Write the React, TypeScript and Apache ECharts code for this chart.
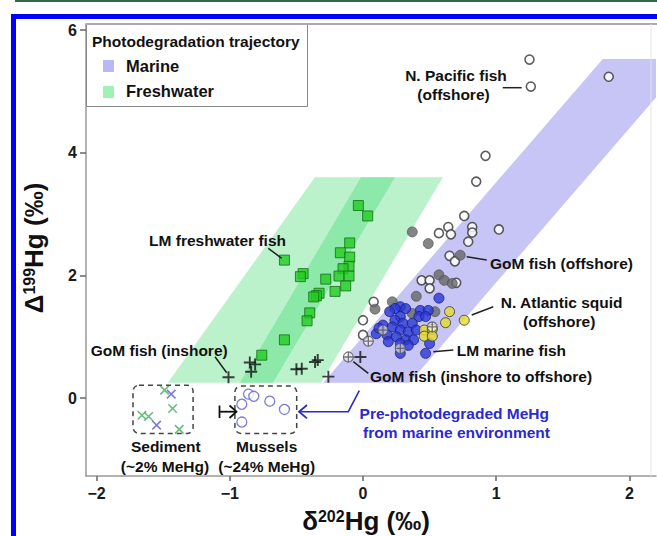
import React, { useEffect, useRef } from "react";
import * as echarts from "echarts";

// ---------- tick labels ----------
const X_TICKS = [-2, -1, 0, 1, 2];
const Y_TICKS = [0, 2, 4, 6];

// ---------- photodegradation trajectory bands (data units) ----------
const MARINE_BAND = [[-0.30, 0.25], [0.35, 0.25], [2.45, 5.53], [1.80, 5.53]];
const FRESH_BAND_A = [[-1.466, 0.25], [-0.677, 0.25], [0.24, 3.6], [-0.361, 3.6]];
const FRESH_BAND_B = [[-0.925, 0.25], [-0.316, 0.25], [0.60, 3.6], [-0.015, 3.6]];

// ---------- series values [δ202Hg, Δ199Hg] ----------
const LM_FRESHWATER_FISH = [
  [-0.035, 3.14], [0.035, 2.97], [-0.10, 2.53], [-0.59, 2.25], [-0.17, 2.37], [-0.10, 2.30],
  [-0.105, 2.15], [-0.15, 2.11], [-0.45, 2.03], [-0.47, 1.98], [-0.28, 1.94], [-0.18, 1.99],
  [-0.105, 1.99], [-0.13, 1.83], [-0.21, 1.74], [-0.33, 1.71], [-0.35, 1.67], [-0.37, 1.65],
  [-0.40, 1.39], [-0.42, 1.26], [-0.59, 0.95], [-0.76, 0.70],
];
const GOM_INSHORE = [
  [-1.01, 0.34], [-0.85, 0.58], [-0.81, 0.55], [-0.84, 0.43], [-0.50, 0.47], [-0.46, 0.48],
  [-0.36, 0.59], [-0.34, 0.62], [-0.26, 0.35], [-0.02, 0.67],
];
const GOM_INSHORE_TO_OFFSHORE = [
  [-0.11, 0.67], [0.15, 1.11], [0.04, 0.93], [0.52, 1.16], [0.28, 0.81],
];
const N_PACIFIC_FISH = [
  [1.25, 5.52], [1.26, 5.08], [1.845, 5.24], [0.92, 3.95], [0.85, 3.53], [0.76, 2.97],
  [0.64, 2.79], [0.82, 2.79], [0.82, 2.70], [1.02, 2.75], [0.57, 2.69], [0.66, 2.67],
  [0.79, 2.55], [0.65, 2.32], [0.69, 2.23], [0.44, 1.92], [0.50, 1.92], [0.50, 1.79],
  [0.70, 1.88], [0.08, 1.57], [0.00, 1.27], [0.00, 1.03],
];
const GOM_OFFSHORE_FISH = [
  [0.37, 2.71], [0.49, 2.52], [0.73, 2.33], [0.57, 2.01], [0.61, 1.92], [0.40, 1.66],
  [0.09, 1.45], [0.22, 1.57], [0.37, 1.38], [0.54, 1.41], [0.67, 1.87],
];
const LM_MARINE_FISH = [
  [0.57, 1.63], [0.28, 1.49], [0.32, 1.46], [0.24, 1.46], [0.20, 1.41], [0.43, 1.43],
  [0.49, 1.43], [0.42, 1.33], [0.47, 1.33], [0.28, 1.33], [0.24, 1.27], [0.30, 1.22],
  [0.37, 1.22], [0.15, 1.19], [0.22, 1.16], [0.28, 1.11], [0.34, 1.08], [0.40, 1.11],
  [0.10, 1.05], [0.18, 1.03], [0.25, 1.00], [0.32, 0.95], [0.38, 0.95], [0.19, 0.92],
  [0.28, 0.89], [0.34, 0.86], [0.28, 0.73], [0.50, 0.89], [0.47, 0.73], [0.12, 1.14],
];
const N_ATLANTIC_SQUID = [
  [0.65, 1.41], [0.76, 1.27], [0.62, 1.23], [0.46, 1.11], [0.52, 1.12], [0.46, 1.01], [0.52, 1.01],
];
const SEDIMENT_LM = [[-1.49, 0.13], [-1.43, -0.17], [-1.66, -0.28], [-1.61, -0.30], [-1.38, -0.51]];
const SEDIMENT_OTHER = [[-1.44, 0.065], [-1.55, -0.44]];
const MUSSELS = [[-0.86, 0.065], [-0.82, 0.03], [-0.91, -0.10], [-0.70, -0.05], [-0.59, -0.185], [-0.91, -0.39]];

// dashed boxes [xmin, ymin, xmax, ymax]
const SEDIMENT_BOX = [-1.727, -0.576, -1.276, 0.21];
const MUSSEL_BOX = [-0.962, -0.576, -0.498, 0.196];

const FONT = '"Liberation Sans", Arial, Helvetica, sans-serif';
const PLUS = "path://M4.2,0H5.8V10H4.2Z M0,4.2H10V5.8H0Z";
const THIN_PLUS = "path://M4.35,0H5.65V10H4.35Z M0,4.35H10V5.65H0Z";

function txt(text: string, x: number, y: number, o: any = {}) {
  return {
    type: "text",
    x,
    y,
    z: 100,
    style: {
      text,
      fill: o.fill || "#111",
      fontSize: o.size || 15.5,
      fontWeight: "bold",
      fontFamily: FONT,
      textAlign: o.align || "center",
      align: o.align || "center",
      textVerticalAlign: "middle",
      verticalAlign: "middle",
    },
  };
}
function ln(x1: number, y1: number, x2: number, y2: number, stroke = "#222", w = 1.5) {
  return { type: "line", z: 100, shape: { x1, y1, x2, y2 }, style: { stroke, lineWidth: w } };
}
function pl(points: number[][], stroke: string, w = 1.6) {
  return { type: "polyline", z: 100, shape: { points }, style: { stroke, lineWidth: w, fill: "none" } };
}

export default function App() {
  const ref = useRef<HTMLDivElement>(null);
  useEffect(() => {
    if (!ref.current) return;
    const chart = echarts.init(ref.current, null, { renderer: "svg" });
    const fmt = (v: number) => (v < 0 ? "\u2212" + Math.abs(v) : String(v));
    const bandSeries = (name: string, polys: number[][][], fill: string, z: number) => ({
      type: "custom",
      name,
      data: [[0, 0]],
      z,
      silent: true,
      clip: true,
      renderItem: (_p: any, api: any) => ({
        type: "group",
        children: polys.map((poly) => ({
          type: "polygon",
          shape: { points: poly.map((pt) => api.coord(pt)) },
          style: { fill },
        })),
      }),
    });
    const scatter = (name: string, data: number[][], symbol: string, size: number, itemStyle: any, z = 5, extra: any = {}) => ({
      type: "scatter",
      name,
      data,
      symbol,
      symbolSize: size,
      itemStyle,
      z,
      silent: true,
      ...extra,
    });
    const titleRich = {
      m: { fontSize: 26, fontWeight: "bold", fontFamily: FONT, fill: "#111", lineHeight: 25, verticalAlign: "bottom" },
      s: { fontSize: 16, fontWeight: "bold", fontFamily: FONT, fill: "#111", lineHeight: 25, verticalAlign: "top" },
    };

    chart.setOption({
      animation: false,
      backgroundColor: "#fff",
      grid: { left: 86, top: 24, width: 570, height: 452, show: false },
      xAxis: {
        type: "value",
        min: -2.08,
        max: 2.2,
        axisLine: { onZero: false, lineStyle: { color: "#999", width: 1.5 } },
        axisTick: { show: true, length: 5, customValues: X_TICKS, lineStyle: { color: "#666", width: 1.5 } },
        axisLabel: {
          customValues: X_TICKS,
          formatter: fmt,
          color: "#1a1a1a",
          fontWeight: "bold",
          fontSize: 16,
          fontFamily: FONT,
          margin: 9,
        },
        splitLine: { show: false },
      },
      yAxis: {
        type: "value",
        min: -1.27,
        max: 6.1,
        axisLine: { show: true, onZero: false, lineStyle: { color: "#999", width: 1.5 } },
        axisTick: { show: true, length: 6, customValues: Y_TICKS, lineStyle: { color: "#666", width: 1.5 } },
        axisLabel: {
          customValues: Y_TICKS,
          formatter: fmt,
          color: "#1a1a1a",
          fontWeight: "bold",
          fontSize: 16,
          fontFamily: FONT,
          margin: 9,
        },
        splitLine: { show: false },
      },
      series: [
        bandSeries("Freshwater", [FRESH_BAND_A, FRESH_BAND_B], "rgba(45,215,95,0.32)", 1),
        bandSeries("Marine", [MARINE_BAND], "#c7c5f6", 1),
        {
          type: "custom",
          name: "boxes",
          data: [[0, 0]],
          z: 2,
          silent: true,
          renderItem: (_p: any, api: any) => ({
            type: "group",
            children: [SEDIMENT_BOX, MUSSEL_BOX].map((b) => {
              const a = api.coord([b[0], b[3]]);
              const c = api.coord([b[2], b[1]]);
              return {
                type: "rect",
                shape: { x: a[0], y: a[1], width: c[0] - a[0], height: c[1] - a[1], r: 6 },
                style: { fill: "none", stroke: "#444", lineWidth: 1.5, lineDash: [5, 4] },
              };
            }),
          }),
        },
        scatter("Sediment (LM)", SEDIMENT_LM, THIN_PLUS, 12, { color: "#3cae5a" }, 5, { symbolRotate: 45 }),
        scatter("Sediment", SEDIMENT_OTHER, THIN_PLUS, 12, { color: "#5a5ad0" }, 5, { symbolRotate: 45 }),
        scatter("Mussels", MUSSELS, "circle", 10, { color: "#fff", borderColor: "#5a5ad0", borderWidth: 1.3 }),
        scatter("LM freshwater fish", LM_FRESHWATER_FISH, "rect", 10, { color: "#22cc22", borderColor: "#156d15", borderWidth: 1 }),
        scatter("GoM fish (inshore)", GOM_INSHORE, PLUS, 12, { color: "#111" }),
        scatter("N. Pacific fish", N_PACIFIC_FISH, "circle", 9, { color: "#fff", borderColor: "#333", borderWidth: 1.6 }, 6),
        scatter("GoM fish (offshore)", GOM_OFFSHORE_FISH, "circle", 10, { color: "#676767", borderColor: "#4d4d4d", borderWidth: 0.8 }, 6),
        scatter("LM marine fish", LM_MARINE_FISH, "circle", 10, { color: "#2a38d8", borderColor: "#1a1f7a", borderWidth: 1 }, 7),
        scatter("N. Atlantic squid", N_ATLANTIC_SQUID, "circle", 10, { color: "#e4dc2c", borderColor: "#333", borderWidth: 1 }, 7),
        scatter("GoM fish (inshore to offshore)", GOM_INSHORE_TO_OFFSHORE, "circle", 10, { color: "rgba(255,255,255,0.7)", borderColor: "#555", borderWidth: 1.2 }, 8),
        scatter("GoM fish (inshore to offshore) +", GOM_INSHORE_TO_OFFSHORE, THIN_PLUS, 10, { color: "#555" }, 9),
      ],
      graphic: [
        // frame
        { type: "rect", z: 0, shape: { x: 15, y: 0, width: 642, height: 2 }, style: { fill: "#2f6b45" } },
        { type: "rect", z: 0, shape: { x: 11, y: 14, width: 646, height: 5 }, style: { fill: "#0000ff" } },
        { type: "rect", z: 0, shape: { x: 11, y: 14, width: 5, height: 522 }, style: { fill: "#0000ff" } },
        ln(86, 24, 657, 24, "#aaa", 2),
        ln(651, 24, 651, 476, "#e4e4e4", 1),
        // legend
        { type: "rect", z: 90, shape: { x: 86.5, y: 24.5, width: 221, height: 82 }, style: { fill: "#fff", stroke: "#888", lineWidth: 1 } },
        txt("Photodegradation trajectory", 92, 41.5, { align: "left", size: 15.5 }),
        { type: "rect", z: 100, shape: { x: 103, y: 60, width: 11, height: 12 }, style: { fill: "#b9b7f6" } },
        txt("Marine", 126, 65.7, { align: "left", size: 16.5 }),
        { type: "rect", z: 100, shape: { x: 103, y: 86, width: 11, height: 12 }, style: { fill: "#9ff2b4" } },
        txt("Freshwater", 126, 90.7, { align: "left", size: 16.5 }),
        // annotations
        txt("N. Pacific fish", 456, 75),
        txt("(offshore)", 453.5, 94),
        ln(502.7, 87.7, 521.7, 87.7),
        txt("LM freshwater fish", 217.5, 240),
        ln(268.3, 248.3, 281.7, 258.3),
        txt("GoM fish (inshore)", 159.2, 350),
        ln(215, 356.7, 226.7, 372.7),
        txt("GoM fish (offshore)", 490, 263.3, { align: "left" }),
        ln(466.7, 256.7, 486.7, 260),
        txt("N. Atlantic squid", 561.7, 302.7),
        txt("(offshore)", 559.2, 321.7),
        ln(471.7, 315, 493.3, 306.7),
        txt("LM marine fish", 456.7, 350.7, { align: "left" }),
        ln(433.3, 351.7, 453.3, 350),
        txt("GoM fish (inshore to offshore)", 370, 376.7, { align: "left" }),
        ln(353.3, 361.7, 368.3, 373.3),
        txt("Pre-photodegraded MeHg", 454.3, 413.3, { fill: "#2a2acf" }),
        txt("from marine environment", 456.5, 432, { fill: "#2a2acf" }),
        pl([[359.3, 390.7], [348.3, 411.7], [299, 411.7]], "#2a2acf"),
        pl([[307, 405], [299, 411.7], [307, 418.4]], "#2a2acf", 1.8),
        txt("Sediment", 165.8, 446.7),
        txt("(~2% MeHg)", 165, 466.7),
        txt("Mussels", 266.7, 446.7),
        txt("(~24% MeHg)", 266.7, 466.7),
        ln(219.5, 405.5, 219.5, 418, "#111", 1.8),
        ln(219.5, 411.7, 236, 411.7, "#111", 1.8),
        pl([[229.5, 405.5], [236.5, 411.7], [229.5, 418]], "#111", 1.8),
        // axis titles
        {
          type: "text",
          z: 100,
          x: 366,
          y: 521,
          style: {
            text: "{m|\u03b4}{s|202}{m|Hg (\u2030)}",
            textAlign: "center",
            align: "center",
            textVerticalAlign: "middle",
            verticalAlign: "middle",
            fill: "#111",
            rich: titleRich,
          },
        },
        {
          type: "text",
          z: 100,
          x: 34,
          y: 248,
          rotation: Math.PI / 2,
          style: {
            text: "{m|\u0394}{s|199}{m|Hg (\u2030)}",
            textAlign: "center",
            align: "center",
            textVerticalAlign: "middle",
            verticalAlign: "middle",
            fill: "#111",
            rich: titleRich,
          },
        },
      ],
    });
    return () => chart.dispose();
  }, []);
  return (
    <div
      ref={ref}
      style={{ position: "fixed", left: 0, top: 0, width: 657, height: 536, background: "#fff" }}
    />
  );
}
